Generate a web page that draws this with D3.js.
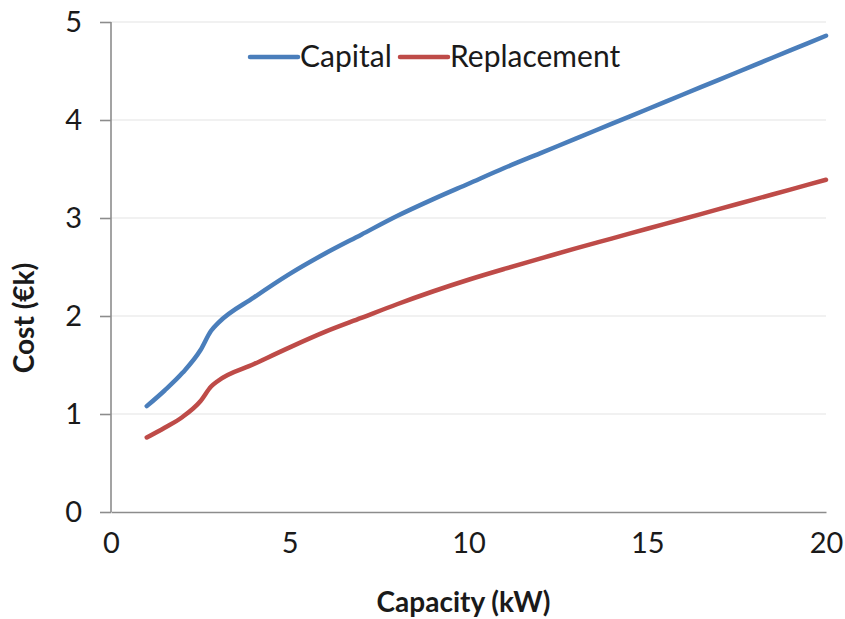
<!DOCTYPE html>
<html>
<head>
<meta charset="utf-8">
<script src="https://cdn.jsdelivr.net/npm/d3@7"></script>
<style>
  body { margin: 0; background: #fff; }
  svg text { font-family: Lato, "Open Sans", sans-serif; fill: #1a1a1a; }
</style>
</head>
<body>
<svg id="chart" width="845" height="619"></svg>
<script>
// capacity (kW) sampled along the curves
var capacity = [1, 1.5, 2, 2.5, 2.8, 3, 4, 5, 6, 7, 8, 9, 10, 11, 12, 13, 14, 15, 16, 17, 18, 19, 20];
var capital = [1.08, 1.24, 1.42, 1.65, 1.85, 1.93, 2.19, 2.43, 2.64, 2.83, 3.02, 3.19, 3.35, 3.51, 3.66, 3.81, 3.96, 4.11, 4.26, 4.41, 4.56, 4.71, 4.86];
var replacement = [0.76, 0.86, 0.97, 1.13, 1.28, 1.34, 1.51, 1.68, 1.84, 1.98, 2.12, 2.25, 2.37, 2.48, 2.585, 2.69, 2.79, 2.89, 2.99, 3.09, 3.19, 3.29, 3.39];
var xTicks = [0, 5, 10, 15, 20];
var yTicks = [0, 1, 2, 3, 4, 5];
var seriesNames = ['Capital', 'Replacement'];
var seriesColors = ['#4a7ebb', '#be4b48'];

var svg = d3.select('#chart');
var margin = {top: 22, right: 19, bottom: 107, left: 111};
var width = 845 - margin.left - margin.right;
var height = 619 - margin.top - margin.bottom;

var x = d3.scaleLinear().domain([0, 20]).range([0, width]);
var y = d3.scaleLinear().domain([0, 5]).range([height, 0]);

var g = svg.append('g').attr('transform', 'translate(' + margin.left + ',' + margin.top + ')');

// gridlines
g.selectAll('.grid').data(yTicks.filter(function(d){ return d > 0; }))
  .enter().append('line')
  .attr('x1', 0).attr('x2', width)
  .attr('y1', function(d){ return y(d); }).attr('y2', function(d){ return y(d); })
  .attr('stroke', '#e3e3e3').attr('stroke-width', 1.2);

// y axis
var yAxis = g.append('g').call(d3.axisLeft(y).tickValues(yTicks).tickFormat(d3.format('d')).tickSize(11).tickPadding(18));
yAxis.select('.domain').attr('stroke', '#8c8c8c').attr('stroke-width', 1.6).attr('d', 'M0,' + height + 'V0');
yAxis.selectAll('.tick line').attr('stroke', '#8c8c8c').attr('stroke-width', 1.6);
yAxis.selectAll('.tick text').attr('font-size', 29).attr('font-family', 'Lato, sans-serif').attr('fill', '#1a1a1a');

// x axis
var xAxis = g.append('g').attr('transform', 'translate(0,' + height + ')')
  .call(d3.axisBottom(x).tickValues(xTicks).tickSize(0).tickPadding(20));
xAxis.select('.domain').attr('stroke', '#8c8c8c').attr('stroke-width', 1.6);
xAxis.selectAll('.tick text').attr('font-size', 29).attr('font-family', 'Lato, sans-serif').attr('fill', '#1a1a1a');

// lines
var line = d3.line()
  .x(function(d){ return x(d[0]); })
  .y(function(d){ return y(d[1]); })
  .curve(d3.curveMonotoneX);

[capital, replacement].forEach(function(vals, i){
  g.append('path')
    .datum(capacity.map(function(c, j){ return [c, vals[j]]; }))
    .attr('fill', 'none')
    .attr('stroke', seriesColors[i])
    .attr('stroke-width', 4.5)
    .attr('stroke-linejoin', 'round')
    .attr('stroke-linecap', 'round')
    .attr('d', line);
});

// legend
var legendX = [250, 400];
seriesNames.forEach(function(name, i){
  var lg = svg.append('g').attr('transform', 'translate(' + legendX[i] + ',57)');
  lg.append('line').attr('x1', 0).attr('x2', 48).attr('y1', 0).attr('y2', 0)
    .attr('stroke', seriesColors[i]).attr('stroke-width', 4.5).attr('stroke-linecap', 'round');
  lg.append('text').attr('x', 50).attr('y', 10).attr('font-size', 30).text(name);
});

// axis titles
svg.append('text')
  .attr('x', margin.left + width / 2 - 5).attr('y', 612)
  .attr('text-anchor', 'middle').attr('font-size', 28).attr('font-weight', 'bold')
  .text('Capacity (kW)');

svg.append('text')
  .attr('transform', 'translate(34,318) rotate(-90)')
  .attr('text-anchor', 'middle').attr('font-size', 28).attr('font-weight', 'bold')
  .text('Cost (€k)');
</script>
</body>
</html>
